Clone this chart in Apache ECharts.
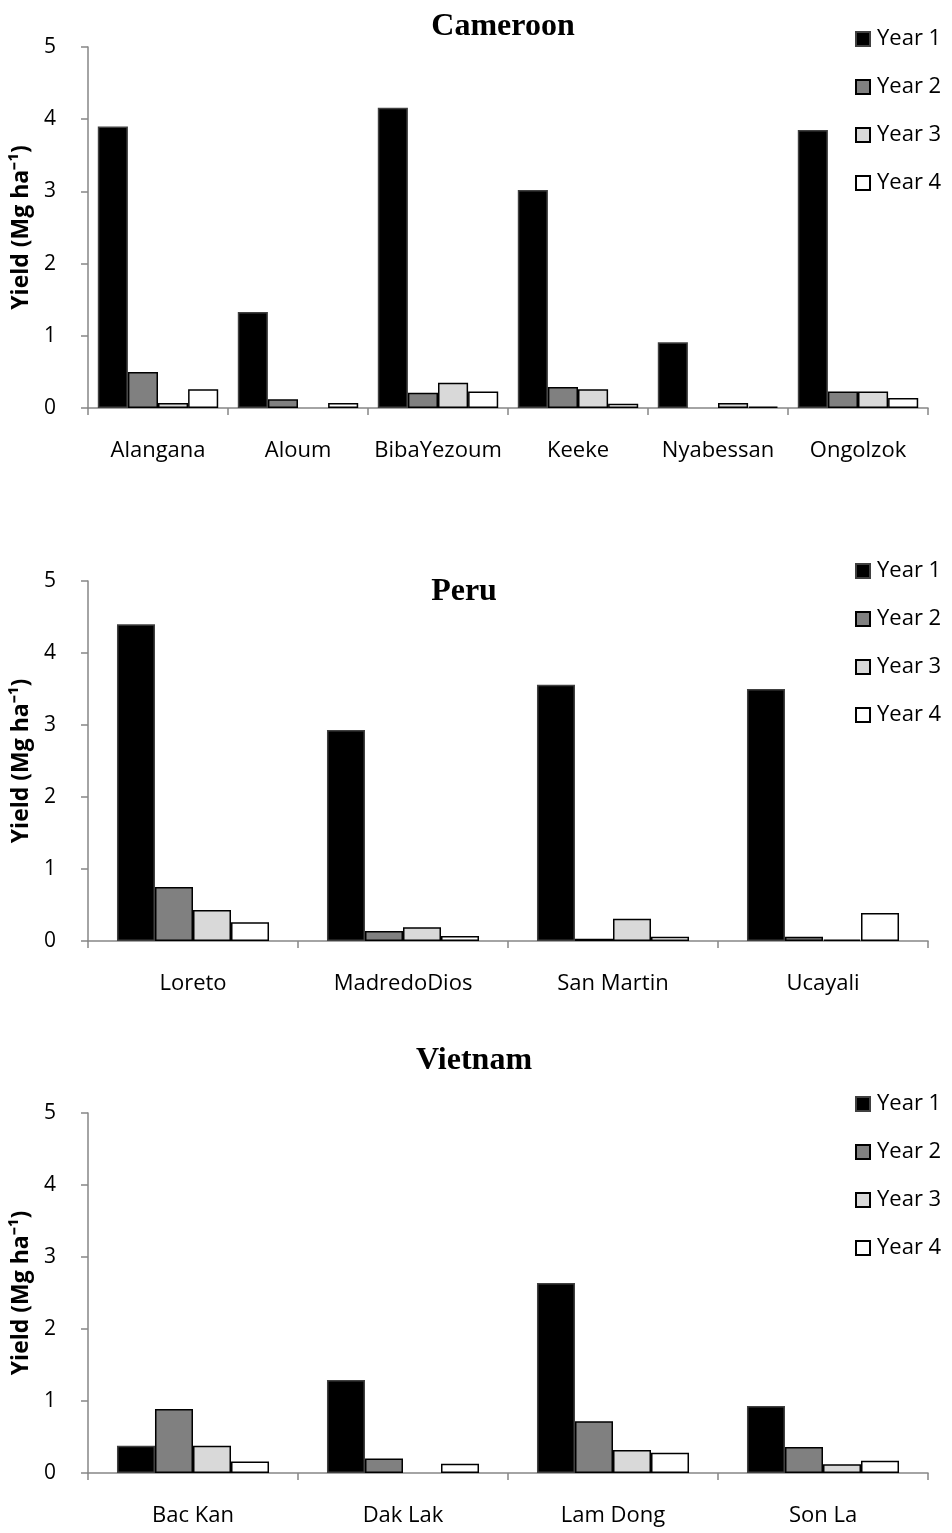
<!DOCTYPE html>
<html>
<head>
<meta charset="utf-8">
<script src="https://cdn.jsdelivr.net/npm/echarts@6/dist/echarts.min.js"></script>
<style>html,body{margin:0;padding:0;background:#fff}#c{width:952px;height:1533px}</style>
</head>
<body>
<div id="c"></div>
<script>
const yearNames = ['Year 1', 'Year 2', 'Year 3', 'Year 4'];
const yTicks = [0, 1, 2, 3, 4, 5];

const cameroonCats = ['Alangana', 'Aloum', 'BibaYezoum', 'Keeke', 'Nyabessan', 'Ongolzok'];
const cameroonY1 = [3.90, 1.33, 4.16, 3.02, 0.91, 3.85];
const cameroonY2 = [0.50, 0.12, 0.21, 0.29, 0, 0.23];
const cameroonY3 = [0.07, 0, 0.35, 0.26, 0.07, 0.23];
const cameroonY4 = [0.26, 0.07, 0.23, 0.06, 0.02, 0.14];

const peruCats = ['Loreto', 'MadredoDios', 'San Martin', 'Ucayali'];
const peruY1 = [4.40, 2.93, 3.56, 3.50];
const peruY2 = [0.75, 0.14, 0.03, 0.06];
const peruY3 = [0.43, 0.19, 0.31, 0.02];
const peruY4 = [0.26, 0.07, 0.06, 0.39];

const vietnamCats = ['Bac Kan', 'Dak Lak', 'Lam Dong', 'Son La'];
const vietnamY1 = [0.38, 1.29, 2.64, 0.93];
const vietnamY2 = [0.89, 0.20, 0.72, 0.36];
const vietnamY3 = [0.38, 0, 0.32, 0.12];
const vietnamY4 = [0.16, 0.13, 0.28, 0.17];

const panels = [
  {title: 'Cameroon', cats: cameroonCats, data: [cameroonY1, cameroonY2, cameroonY3, cameroonY4],
   top: 47, height: 361, titleX: 498, titleY: 24, legendTop: 23, gap: '14%'},
  {title: 'Peru', cats: peruCats, data: [peruY1, peruY2, peruY3, peruY4],
   top: 581, height: 360, titleX: 459, titleY: 589, legendTop: 555, gap: '27.6%'},
  {title: 'Vietnam', cats: vietnamCats, data: [vietnamY1, vietnamY2, vietnamY3, vietnamY4],
   top: 1113, height: 360, titleX: 469, titleY: 1058, legendTop: 1088, gap: '27.6%'}
];

const fills = ['#000000', '#808080', '#d9d9d9', '#ffffff'];
const borders = ['#404040', '#000000', '#000000', '#000000'];
const axisColor = '#868686';
const FONT = 'Open Sans';

const option = {
  animation: false,
  backgroundColor: '#ffffff',
  title: [], legend: [], grid: [], xAxis: [], yAxis: [], series: []
};

panels.forEach((p, i) => {
  option.title.push({
    text: p.title, left: p.titleX, top: p.titleY - 18, textAlign: 'center',
    textStyle: {fontFamily: 'Liberation Serif', fontWeight: 'bold', fontSize: 32, color: '#000'}
  });
  option.legend.push({
    data: yearNames, orient: 'vertical', left: 850, top: p.legendTop,
    itemWidth: 14, itemHeight: 14, itemGap: 26, icon: 'rect',
    textStyle: {fontFamily: FONT, fontSize: 22, color: '#000', lineHeight: 22, padding: [0, 0, 0, 2]}
  });
  option.grid.push({left: 88, right: 24, top: p.top, height: p.height, containLabel: false});
  option.xAxis.push({
    type: 'category', gridIndex: i, data: p.cats,
    axisLine: {lineStyle: {color: axisColor, width: 1.5}},
    axisTick: {show: true, alignWithLabel: false, length: 7, lineStyle: {color: axisColor, width: 1.5}},
    axisLabel: {fontFamily: FONT, fontSize: 22, color: '#000', margin: 32, interval: 0}
  });
  option.yAxis.push({
    type: 'value', gridIndex: i, min: 0, max: 5, interval: 1,
    name: 'Yield (Mg ha\u207B\u00B9)', nameLocation: 'middle', nameGap: 52, nameRotate: 90,
    nameTextStyle: {fontFamily: FONT, fontWeight: 'bold', fontSize: 23, color: '#000'},
    axisLine: {show: true, lineStyle: {color: axisColor, width: 1.5}},
    axisTick: {show: true, length: 7, lineStyle: {color: axisColor, width: 1.5}},
    splitLine: {show: false},
    axisLabel: {fontFamily: FONT, fontSize: 21, color: '#000', margin: 32,
      formatter: v => yTicks.includes(v) ? String(v) : ''}
  });
  p.data.forEach((arr, k) => {
    option.series.push({
      type: 'bar', name: yearNames[k], xAxisIndex: i, yAxisIndex: i,
      data: arr.map(v => v === 0 ? '-' : v),
      barGap: '0%', barCategoryGap: p.gap,
      itemStyle: {color: fills[k], borderColor: borders[k], borderWidth: 1.5}
    });
  });
});

const chart = echarts.init(document.getElementById('c'), null, {renderer: 'canvas'});
chart.setOption(option);
</script>
</body>
</html>
